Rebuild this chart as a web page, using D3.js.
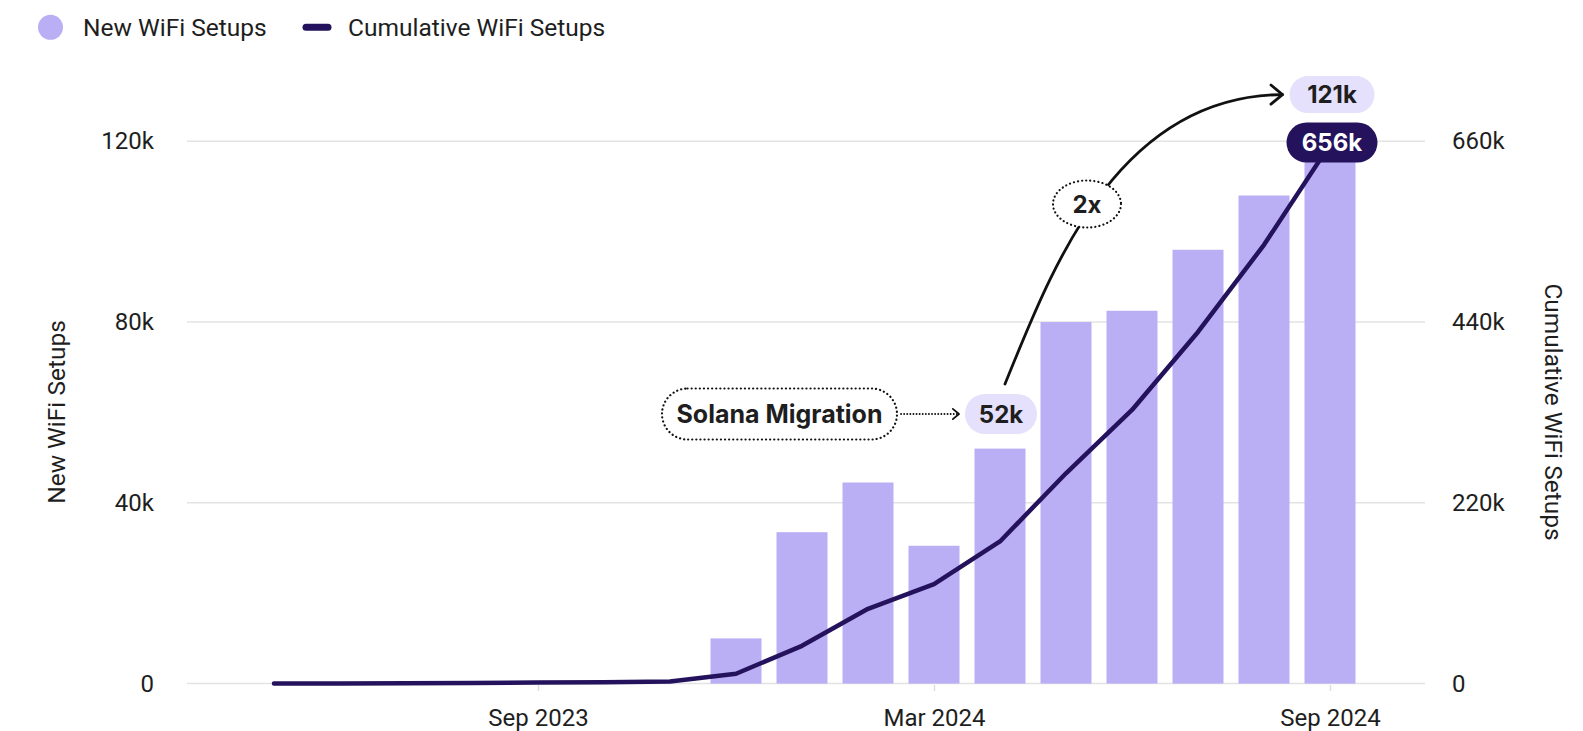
<!DOCTYPE html>
<html><head><meta charset="utf-8">
<script src="https://cdn.jsdelivr.net/npm/d3@7"></script>
<style>
html,body{margin:0;padding:0;background:#fff;}
svg{display:block;}
</style>
</head><body>
<svg id="chart" width="1583" height="731"></svg>
<script>
// ---- data ----
const months = ["2023-05","2023-06","2023-07","2023-08","2023-09","2023-10","2023-11","2023-12",
  "2024-01","2024-02","2024-03","2024-04","2024-05","2024-06","2024-07","2024-08","2024-09"];
const newSetups = [null,null,null,null,null,null,null,10000,33500,44500,30500,52000,80000,82500,96000,108000,121000];
const cumulativeSetups = [0,200,500,800,1200,1700,2500,12000,46000,91000,121000,173000,256000,333000,428000,534000,656000];
const leftTicks = [0,40000,80000,120000];
const rightTicks = [0,220000,440000,660000];
const xTickMonths = ["2023-09","2024-03","2024-09"];
const xTickLabels = ["Sep 2023","Mar 2024","Sep 2024"];
const seriesNames = ["New WiFi Setups","Cumulative WiFi Setups"];
const migrationLabel = "Solana Migration";
const migrationMonth = "2024-04";
const multiplierLabel = "2x";

// ---- setup ----
const svg = d3.select("#chart");
const barColor = "#baaef5";
const lineColor = "#24135c";
const pillLight = "#e5e0fb";
const textColor = "#1e1e1e";
const fontReg = "Roboto, 'Noto Sans', sans-serif";
const fontBold = "Inter, Roboto, sans-serif";

const x = d3.scalePoint().domain(months).range([274, 1330]);
const yL = d3.scaleLinear().domain([0,120000]).range([683.6,141.3]);
const yR = d3.scaleLinear().domain([0,660000]).range([683.6,141.3]);
const kfmt = v => v === 0 ? "0" : (v/1000) + "k";

// gridlines
svg.append("g").selectAll("line").data(leftTicks).join("line")
  .attr("x1",187).attr("x2",1425)
  .attr("y1",d=>yL(d)).attr("y2",d=>yL(d))
  .attr("stroke","#e3e3e3").attr("stroke-width",1.5);

// left axis
const gL = svg.append("g").attr("transform","translate(161,0)")
  .call(d3.axisLeft(yL).tickValues(leftTicks).tickFormat(kfmt).tickSize(0).tickPadding(7));
gL.select(".domain").remove();
gL.selectAll("text").attr("font-family",fontReg).attr("font-size",24).attr("fill",textColor);

// right axis
const gR = svg.append("g").attr("transform","translate(1445,0)")
  .call(d3.axisRight(yR).tickValues(rightTicks).tickFormat(kfmt).tickSize(0).tickPadding(7));
gR.select(".domain").remove();
gR.selectAll("text").attr("font-family",fontReg).attr("font-size",24).attr("fill",textColor);

// bottom axis
const gB = svg.append("g").attr("transform","translate(0,685)")
  .call(d3.axisBottom(x).tickValues(xTickMonths).tickFormat((d,i)=>xTickLabels[i]).tickSize(6).tickPadding(18));
gB.select(".domain").remove();
gB.selectAll(".tick line").attr("stroke","#dddddd").attr("stroke-width",1.5);
gB.selectAll("text").attr("font-family",fontReg).attr("font-size",24).attr("fill",textColor);

// bars
const barW = 51;
const barData = months.map((m,i)=>({m, v:newSetups[i]})).filter(e=>e.v!==null);
svg.append("g").selectAll("rect").data(barData).join("rect")
  .attr("x",e=>x(e.m)-barW/2).attr("width",barW)
  .attr("y",e=>yL(e.v)).attr("height",e=>yL(0)-yL(e.v))
  .attr("fill",barColor);

// line
const lineData = months.map((m,i)=>({m, v:cumulativeSetups[i]}));
svg.append("path").datum(lineData)
  .attr("d", d3.line().x(e=>x(e.m)).y(e=>yR(e.v)))
  .attr("fill","none").attr("stroke",lineColor).attr("stroke-width",4.5)
  .attr("stroke-linejoin","round").attr("stroke-linecap","round");

// axis titles
svg.append("text").attr("transform","translate(65,412) rotate(-90)")
  .attr("text-anchor","middle").attr("font-family",fontReg).attr("font-size",24.5).attr("fill",textColor)
  .text(seriesNames[0]);
svg.append("text").attr("transform","translate(1545,412) rotate(90)")
  .attr("text-anchor","middle").attr("font-family",fontReg).attr("font-size",24.5).attr("fill",textColor)
  .text(seriesNames[1]);

// legend
svg.append("circle").attr("cx",50.5).attr("cy",27.3).attr("r",12.5).attr("fill",barColor);
svg.append("text").attr("x",83).attr("y",36).attr("font-family",fontReg).attr("font-size",24.5).attr("fill",textColor).text(seriesNames[0]);
svg.append("line").attr("x1",306).attr("x2",328).attr("y1",27.3).attr("y2",27.3)
  .attr("stroke",lineColor).attr("stroke-width",7).attr("stroke-linecap","round");
svg.append("text").attr("x",348).attr("y",36).attr("font-family",fontReg).attr("font-size",24.5).attr("fill",textColor).text(seriesNames[1]);

// ---- annotations ----
function pill(cx, cy, w, h, fill, txt, txtColor, dotted, fs){
  const g = svg.append("g");
  g.append("rect").attr("x",cx-w/2).attr("y",cy-h/2).attr("width",w).attr("height",h)
    .attr("rx",h/2).attr("ry",h/2).attr("fill",fill)
    .attr("stroke",dotted?"#111":"none").attr("stroke-width",dotted?2.2:0)
    .attr("stroke-dasharray",dotted?"0.1,4":null).attr("stroke-linecap","round");
  g.append("text").attr("x",cx).attr("y",cy).attr("dy","0.36em").attr("text-anchor","middle")
    .attr("font-family",fontBold).attr("font-weight",700).attr("font-size",fs||24).attr("fill",txtColor)
    .text(txt);
  return g;
}
function chevron(tx, ty, angle, len, sw){
  const a1 = angle + Math.PI*0.78, a2 = angle - Math.PI*0.78;
  svg.append("path")
    .attr("d",`M${tx+len*Math.cos(a1)},${ty+len*Math.sin(a1)} L${tx},${ty} L${tx+len*Math.cos(a2)},${ty+len*Math.sin(a2)}`)
    .attr("fill","none").attr("stroke","#111").attr("stroke-width",sw)
    .attr("stroke-linecap","round").attr("stroke-linejoin","round");
}

const last = months.length-1;
const migI = months.indexOf(migrationMonth);
const lastX = x(months[last]);
const topCumY = yR(cumulativeSetups[last]);
const migX = x(months[migI]);
const migBarTop = yL(newSetups[migI]);

// 52k pill
const p52 = {cx: migX+1, cy: migBarTop-34.6, w:72, h:40};
// 121k pill position (above 656k pill)
const p121 = {cx: lastX+2, cy: topCumY-50, w:85, h:37};

// curved arrow from 52k pill to 121k pill
const sx = p52.cx+4, sy = p52.cy-p52.h/2-10;
const ex = p121.cx-p121.w/2-7, ey = p121.cy;
svg.append("path")
  .attr("d",`M${sx},${sy} C${sx+45},${sy-110} ${sx+110},${ey+1} ${ex},${ey}`)
  .attr("fill","none").attr("stroke","#111").attr("stroke-width",2.8).attr("stroke-linecap","round");
chevron(ex, ey, 0, 15, 2.8);

// 2x dotted ellipse
svg.append("ellipse").attr("cx",1087).attr("cy",204).attr("rx",34).attr("ry",23.5)
  .attr("fill","#fff").attr("stroke","#111").attr("stroke-width",2.2)
  .attr("stroke-dasharray","0.1,4").attr("stroke-linecap","round");
svg.append("text").attr("x",1087).attr("y",204).attr("dy","0.36em").attr("text-anchor","middle")
  .attr("font-family",fontBold).attr("font-weight",700).attr("font-size",24).attr("fill",textColor).text(multiplierLabel);

// pills
pill(p52.cx, p52.cy, p52.w, p52.h, pillLight, kfmt(newSetups[migI]), textColor, false);
pill(p121.cx, p121.cy, p121.w, p121.h, pillLight, kfmt(newSetups[last]), textColor, false);
pill(lastX+2, topCumY-2, 91, 40, lineColor, kfmt(cumulativeSetups[last]), "#ffffff", false);

// Solana migration pill + dotted arrow
const solW = 235, solH = 51;
const solCx = p52.cx - p52.w/2 - 68 - solW/2;
pill(solCx, p52.cy, solW, solH, "#fff", migrationLabel, textColor, true, 25);
const ax1 = solCx+solW/2+4, ax2 = p52.cx-p52.w/2-6;
svg.append("line").attr("x1",ax1).attr("x2",ax2).attr("y1",p52.cy).attr("y2",p52.cy)
  .attr("stroke","#111").attr("stroke-width",1.8).attr("stroke-dasharray","0.1,3").attr("stroke-linecap","round");
chevron(ax2, p52.cy, 0, 8, 1.8);
</script>
</body></html>
